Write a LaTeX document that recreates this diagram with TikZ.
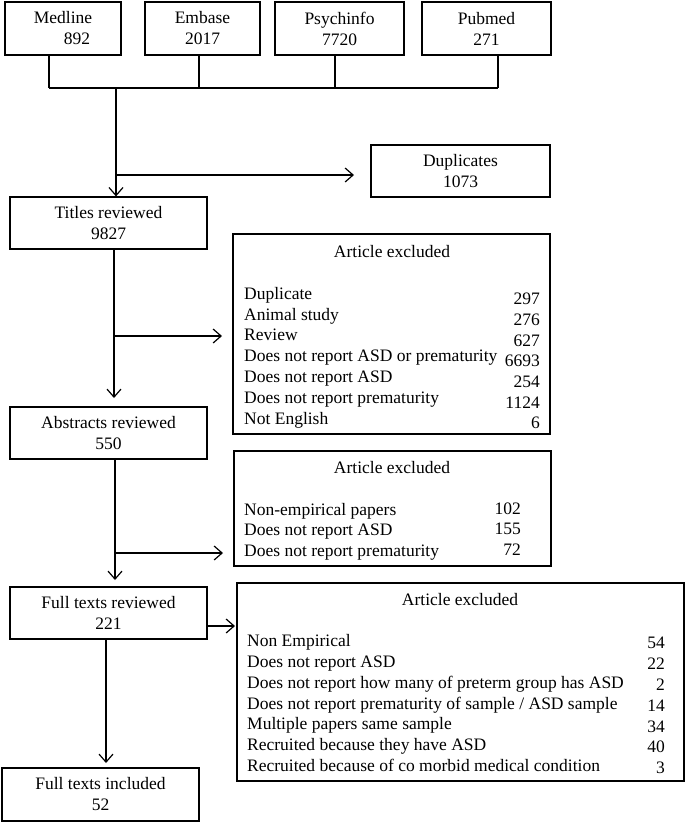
\documentclass[tikz,border=0pt]{standalone}
\usepackage{fontspec}
\setmainfont{Liberation Serif}
\usetikzlibrary{arrows.meta}
\begin{document}
\begin{tikzpicture}[x=1pt,y=-1pt,
  every node/.style={font=\fontsize{17.5}{21}\selectfont},
  box/.style={draw, line width=1.2pt, inner sep=0pt, align=center},
  conn/.style={line width=1.2pt},
  arr/.style={conn, -{Straight Barb[length=8pt,width=14pt]}},
  item/.style={anchor=base west, inner sep=0pt},
  num/.style={anchor=base east, inner sep=0pt},
  ttl/.style={anchor=base, inner sep=0pt}]
\useasboundingbox (0,0) rectangle (685,823);

% source boxes
\node[box, minimum width=116pt, minimum height=53pt] (med) at (63,28.5) {Medline\\\hspace*{28pt}892};
\node[box, minimum width=115pt, minimum height=53pt] (emb) at (202.5,28.5) {Embase\\2017};
\node[box, minimum width=129pt, minimum height=53pt] (psy) at (339.5,28.5) {Psychinfo\\7720};
\node[box, minimum width=129pt, minimum height=53pt] (pub) at (486.5,28.5) {Pubmed\\271};

% flow boxes
\node[box, minimum width=179pt, minimum height=52pt] (dup) at (460.5,171) {Duplicates\\1073};
\node[box, minimum width=197pt, minimum height=52pt] (tit) at (108.5,223) {Titles reviewed\\9827};
\node[box, minimum width=197pt, minimum height=52pt] (abs) at (108.5,433) {Abstracts reviewed\\550};
\node[box, minimum width=197pt, minimum height=52pt] (full) at (108.5,613) {Full texts reviewed\\221};
\node[box, minimum width=197pt, minimum height=53pt] (inc) at (100.5,794.5) {Full texts included\\52};

% exclusion box 1
\node[box, minimum width=317pt, minimum height=200pt] (ex1) at (391.5,334) {};
\node[ttl] (ex1t) at (392,257) {Article excluded};
\node[item] (r11) at (244,299) {Duplicate};
\node[item] (r12) at (244,320) {Animal study};
\node[item] (r13) at (244,340) {Review};
\node[item] (r14) at (244,361) {Does not report ASD or prematurity};
\node[item] (r15) at (244,382) {Does not report ASD};
\node[item] (r16) at (244,403) {Does not report prematurity};
\node[item] (r17) at (244,424) {Not English};
\node[num] (n11) at (540,304) {297};
\node[num] (n12) at (540,325) {276};
\node[num] (n13) at (540,346) {627};
\node[num] (n14) at (540,366) {6693};
\node[num] (n15) at (540,387) {254};
\node[num] (n16) at (540,408) {1124};
\node[num] (n17) at (540,428) {6};

% exclusion box 2
\node[box, minimum width=317pt, minimum height=115pt] (ex2) at (392.5,508.5) {};
\node[ttl] (ex2t) at (392,473) {Article excluded};
\node[item] (r21) at (244,515) {Non-empirical papers};
\node[item] (r22) at (244,535) {Does not report ASD};
\node[item] (r23) at (244,556) {Does not report prematurity};
\node[num] (n21) at (521,514) {102};
\node[num] (n22) at (521,534) {155};
\node[num] (n23) at (521,555) {72};

% exclusion box 3
\node[box, minimum width=447pt, minimum height=198pt] (ex3) at (460.5,682) {};
\node[ttl] (ex3t) at (460,605) {Article excluded};
\node[item] (r31) at (247,646) {Non Empirical};
\node[item] (r32) at (247,667) {Does not report ASD};
\node[item] (r33) at (247,688) {Does not report how many of preterm group has ASD};
\node[item] (r34) at (247,709) {Does not report prematurity of sample / ASD sample};
\node[item] (r35) at (247,729) {Multiple papers same sample};
\node[item] (r36) at (247,750) {Recruited because they have ASD};
\node[item] (r37) at (247,771) {Recruited because of co morbid medical condition};
\node[num] (n31) at (665,648) {54};
\node[num] (n32) at (665,669) {22};
\node[num] (n33) at (665,690) {2};
\node[num] (n34) at (665,711) {14};
\node[num] (n35) at (665,732) {34};
\node[num] (n36) at (665,752) {40};
\node[num] (n37) at (665,773) {3};

% connectors
\coordinate (d1) at (49,88);
\coordinate (d2) at (199,88);
\coordinate (d3) at (335,88);
\coordinate (d4) at (498,88);
\draw[conn] (med.south -| d1) -- (d1);
\draw[conn] (emb.south -| d2) -- (d2);
\draw[conn] (psy.south -| d3) -- (d3);
\draw[conn] (pub.south -| d4) -- (d4);
\draw[conn] (d1) -- (d4);
\coordinate (j1) at (116,88);
\draw[arr] (j1) -- (tit.north -| j1);
\coordinate (j2) at (116,175);
\coordinate (dupin) at (354,175);
\draw[arr] (j2) -- (dupin);

\coordinate (a2) at (114,398);
\draw[arr] (tit.south -| a2) -- (a2);
\coordinate (j3) at (114,336);
\coordinate (ex1in) at (222,336);
\draw[arr] (j3) -- (ex1in);

\coordinate (a3) at (115,580);
\draw[arr] (abs.south -| a3) -- (a3);
\coordinate (j4) at (115,553);
\coordinate (ex2in) at (223,553);
\draw[arr] (j4) -- (ex2in);

\coordinate (ex3in) at (235,626);
\draw[arr] (full.east |- ex3in) -- (ex3in);
\coordinate (a4) at (106,763);
\draw[arr] (full.south -| a4) -- (a4);
\end{tikzpicture}
\end{document}
